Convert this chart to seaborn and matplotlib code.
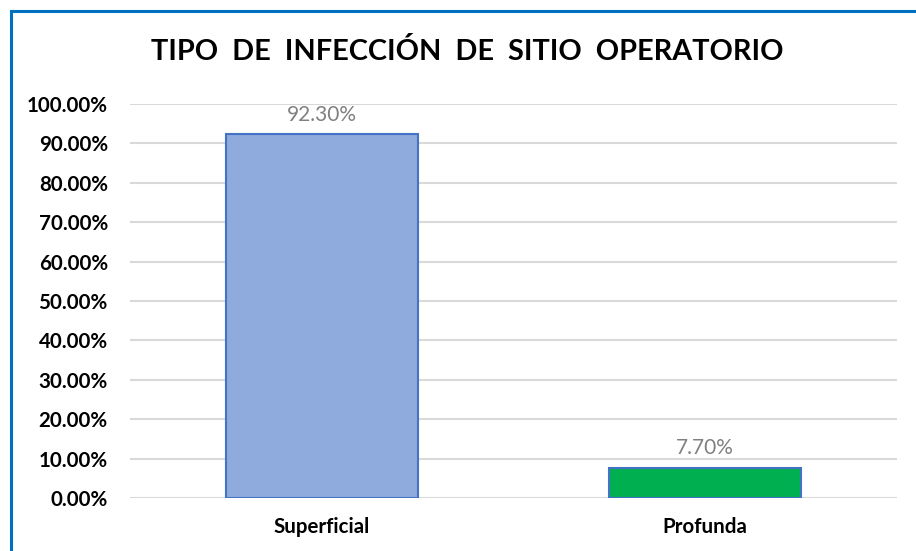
import matplotlib
matplotlib.use("Agg")
import matplotlib.pyplot as plt
import seaborn as sns
import pandas as pd
from matplotlib.patches import Rectangle
from matplotlib.ticker import FuncFormatter

categories = ["Superficial", "Profunda"]
values = [0.923, 0.077]
value_labels = ["92.30%", "7.70%"]
fill_colors = ["#8FAADC", "#00B050"]
title = "TIPO  DE  INFECCIÓN  DE  SITIO  OPERATORIO"

sns.set_theme(style="white")
plt.rcParams["font.family"] = ["Lato", "DejaVu Sans"]

df = pd.DataFrame({"cat": categories, "val": values})

fig = plt.figure(figsize=(9.16, 5.51), dpi=100)
ax = fig.add_axes([130/916, 1-498/551, (897-130)/916, (498-104)/551])

sns.barplot(data=df, x="cat", y="val", hue="cat", palette=fill_colors,
            saturation=1, width=0.5, edgecolor="#4472C4", linewidth=1.5,
            legend=False, ax=ax, zorder=3)

ax.set_xlim(-0.5, 1.5)
ax.set_ylim(0, 1.0)
ax.set_yticks([i/10 for i in range(11)])
ax.yaxis.set_major_formatter(FuncFormatter(lambda v, p: f"{v*100:.2f}%"))
ax.grid(axis="y", color="#D9D9D9", linewidth=1.5, zorder=0)
ax.set_axisbelow(True)
for s in ax.spines.values():
    s.set_visible(False)
ax.set_xlabel("")
ax.set_ylabel("")
ax.tick_params(axis="y", length=0, pad=16, labelsize=14.8)
ax.tick_params(axis="x", length=0, pad=14, labelsize=14.8)
for lab in ax.get_yticklabels() + ax.get_xticklabels():
    lab.set_fontweight("bold")
    lab.set_color("black")

for i, (v, t) in enumerate(zip(values, value_labels)):
    ax.annotate(t, (i, v), xytext=(0, 7), textcoords="offset points",
                ha="center", va="bottom", color="#808080", fontsize=15)

fig.text(467/916, 1-52/551, title, ha="center", va="center",
         fontsize=20.8, fontweight="bold", color="black")

fig.patches.append(Rectangle((11/916, -0.1), 1.2, 1-11/551+0.1,
                             transform=fig.transFigure, fill=False,
                             edgecolor="#0070C0", linewidth=2.2))

fig.savefig("out.png", dpi=100, facecolor="white")
